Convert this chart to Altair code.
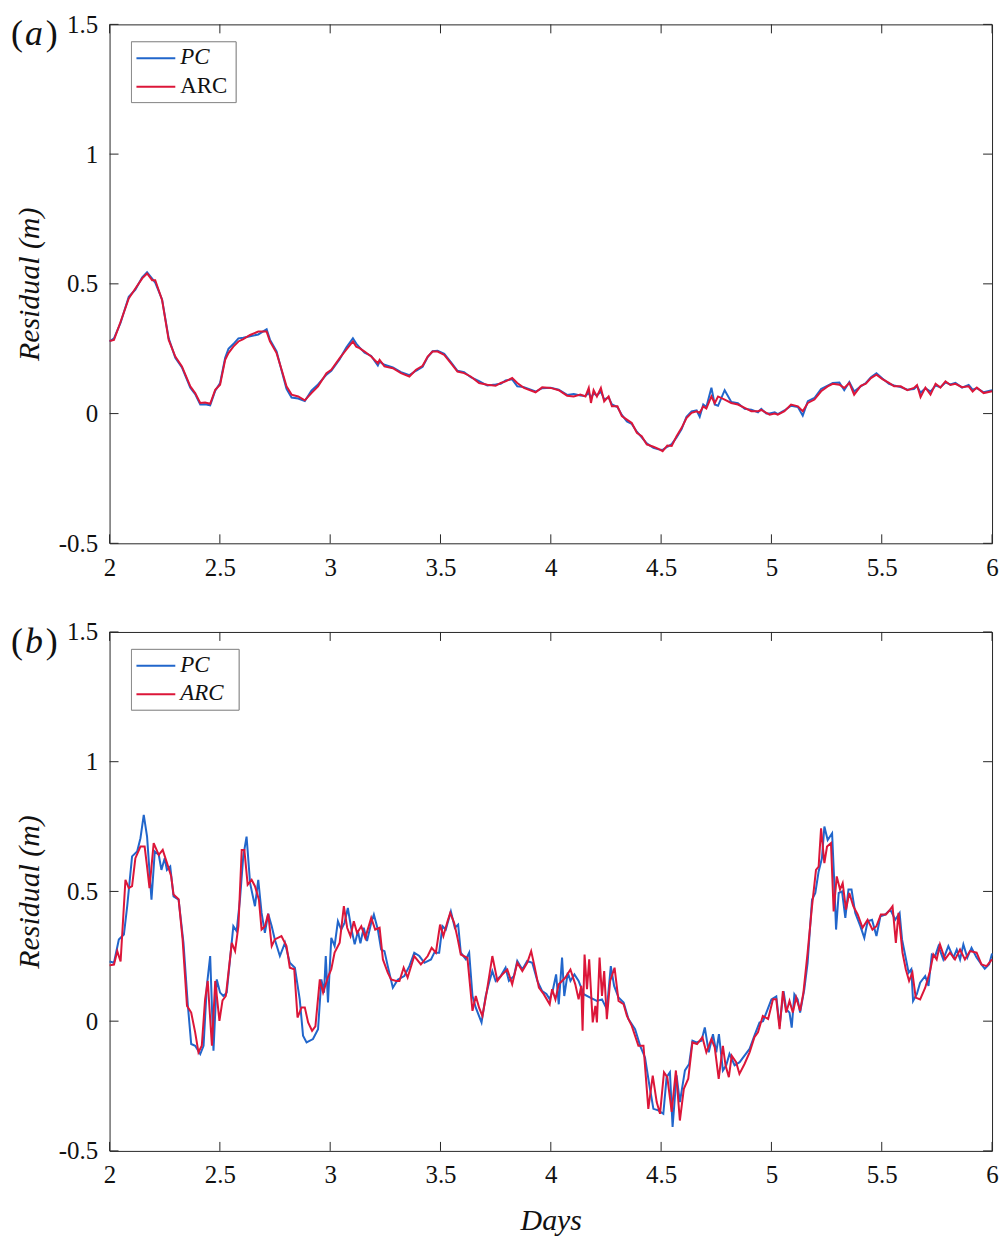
import altair as alt
import pandas as pd

# ---------------- panel (a) ----------------
days_a = [2.000, 2.020, 2.050, 2.087, 2.117, 2.148, 2.170, 2.193, 2.207, 2.238, 2.268, 2.298, 2.328, 2.366, 2.388,
          2.411, 2.433, 2.456, 2.479, 2.501, 2.524, 2.539, 2.561, 2.584, 2.606, 2.637, 2.674, 2.712, 2.727, 2.757,
          2.780, 2.802, 2.825, 2.855, 2.885, 2.915, 2.945, 2.983, 3.005, 3.043, 3.073, 3.103, 3.118, 3.133, 3.156,
          3.186, 3.216, 3.224, 3.246, 3.284, 3.321, 3.359, 3.389, 3.419, 3.442, 3.464, 3.487, 3.517, 3.547, 3.577,
          3.607, 3.637, 3.675, 3.712, 3.750, 3.773, 3.795, 3.825, 3.848, 3.878, 3.931, 3.961, 3.999, 4.036, 4.074,
          4.104, 4.134, 4.157, 4.172, 4.182, 4.194, 4.209, 4.227, 4.242, 4.262, 4.277, 4.302, 4.322, 4.345, 4.367,
          4.390, 4.412, 4.435, 4.465, 4.488, 4.507, 4.528, 4.548, 4.570, 4.593, 4.615, 4.638, 4.661, 4.675, 4.691,
          4.705, 4.728, 4.743, 4.758, 4.788, 4.818, 4.848, 4.879, 4.909, 4.939, 4.954, 4.977, 4.992, 5.015, 5.029,
          5.059, 5.089, 5.120, 5.142, 5.165, 5.195, 5.225, 5.255, 5.278, 5.308, 5.330, 5.353, 5.375, 5.405, 5.428,
          5.451, 5.476, 5.503, 5.533, 5.556, 5.586, 5.616, 5.646, 5.660, 5.676, 5.698, 5.721, 5.744, 5.766, 5.789,
          5.811, 5.834, 5.864, 5.894, 5.912, 5.931, 5.962, 6.000]
arc_a = [0.280, 0.284, 0.354, 0.444, 0.482, 0.521, 0.540, 0.514, 0.514, 0.438, 0.284, 0.220, 0.182, 0.105, 0.079,
         0.041, 0.043, 0.038, 0.092, 0.111, 0.207, 0.233, 0.258, 0.278, 0.287, 0.303, 0.316, 0.316, 0.278, 0.233,
         0.169, 0.105, 0.073, 0.066, 0.051, 0.079, 0.105, 0.156, 0.169, 0.214, 0.246, 0.278, 0.258, 0.252, 0.239,
         0.220, 0.194, 0.207, 0.182, 0.175, 0.156, 0.143, 0.169, 0.184, 0.220, 0.239, 0.239, 0.226, 0.194, 0.162,
         0.156, 0.143, 0.118, 0.111, 0.107, 0.118, 0.124, 0.137, 0.118, 0.099, 0.082, 0.101, 0.099, 0.090, 0.069,
         0.066, 0.073, 0.066, 0.099, 0.041, 0.090, 0.066, 0.099, 0.047, 0.066, 0.028, 0.028, -0.010, -0.023, -0.036,
         -0.074, -0.087, -0.119, -0.128, -0.136, -0.145, -0.123, -0.125, -0.087, -0.055, -0.017, 0.003, 0.009, 0.003, 0.028,
         0.020, 0.066, 0.040, 0.066, 0.054, 0.041, 0.035, 0.022, 0.009, 0.009, 0.014, 0.003, -0.004, 0.000, -0.004,
         0.009, 0.035, 0.028, 0.009, 0.041, 0.054, 0.086, 0.105, 0.115, 0.111, 0.099, 0.118, 0.073, 0.107, 0.115,
         0.137, 0.150, 0.133, 0.118, 0.105, 0.105, 0.090, 0.099, 0.110, 0.064, 0.100, 0.073, 0.115, 0.100, 0.124,
         0.110, 0.115, 0.102, 0.105, 0.085, 0.100, 0.079, 0.086]
pc_a = [0.278, 0.290, 0.350, 0.450, 0.478, 0.525, 0.545, 0.520, 0.505, 0.440, 0.290, 0.215, 0.178, 0.100, 0.075,
        0.035, 0.036, 0.032, 0.088, 0.118, 0.215, 0.250, 0.268, 0.290, 0.292, 0.298, 0.305, 0.325, 0.285, 0.240,
        0.165, 0.095, 0.062, 0.058, 0.048, 0.088, 0.112, 0.150, 0.165, 0.210, 0.255, 0.290, 0.270, 0.255, 0.235,
        0.222, 0.185, 0.200, 0.188, 0.178, 0.160, 0.148, 0.165, 0.180, 0.218, 0.240, 0.242, 0.230, 0.198, 0.165,
        0.160, 0.140, 0.125, 0.108, 0.112, 0.115, 0.128, 0.132, 0.105, 0.102, 0.085, 0.098, 0.100, 0.092, 0.072,
        0.075, 0.070, 0.068, 0.080, 0.060, 0.078, 0.070, 0.085, 0.055, 0.062, 0.035, 0.025, -0.005, -0.030, -0.040,
        -0.070, -0.092, -0.115, -0.132, -0.138, -0.140, -0.128, -0.118, -0.092, -0.060, -0.012, 0.008, 0.012, -0.012, 0.035,
        0.025, 0.100, 0.035, 0.030, 0.090, 0.045, 0.040, 0.018, 0.015, 0.005, 0.018, 0.000, 0.000, 0.005, -0.002,
        0.012, 0.030, 0.025, -0.008, 0.048, 0.060, 0.095, 0.108, 0.118, 0.120, 0.090, 0.122, 0.085, 0.105, 0.118,
        0.140, 0.155, 0.135, 0.115, 0.108, 0.102, 0.092, 0.095, 0.105, 0.080, 0.098, 0.085, 0.108, 0.102, 0.120,
        0.112, 0.118, 0.100, 0.110, 0.092, 0.098, 0.082, 0.090]

# ---------------- panel (b) ----------------
days_pc_b = [2.000, 2.020, 2.042, 2.065, 2.080, 2.102, 2.125, 2.140, 2.155, 2.170, 2.190, 2.205, 2.223, 2.235, 2.250,
             2.260, 2.275, 2.290, 2.313, 2.335, 2.355, 2.370, 2.388, 2.411, 2.426, 2.441, 2.456, 2.471, 2.486, 2.501,
             2.516, 2.531, 2.546, 2.561, 2.576, 2.591, 2.606, 2.621, 2.637, 2.659, 2.674, 2.689, 2.704, 2.719, 2.735,
             2.749, 2.772, 2.795, 2.817, 2.840, 2.862, 2.877, 2.893, 2.922, 2.945, 2.960, 2.972, 2.980, 2.990, 3.005,
             3.020, 3.035, 3.050, 3.065, 3.080, 3.095, 3.111, 3.126, 3.137, 3.152, 3.167, 3.186, 3.198, 3.216, 3.231,
             3.246, 3.261, 3.284, 3.306, 3.336, 3.359, 3.381, 3.404, 3.427, 3.457, 3.472, 3.494, 3.509, 3.524, 3.547,
             3.565, 3.580, 3.592, 3.615, 3.630, 3.645, 3.660, 3.686, 3.705, 3.720, 3.735, 3.750, 3.773, 3.795, 3.810,
             3.833, 3.848, 3.871, 3.893, 3.916, 3.939, 3.961, 3.980, 3.995, 4.010, 4.024, 4.036, 4.051, 4.061, 4.077,
             4.089, 4.107, 4.126, 4.149, 4.179, 4.209, 4.232, 4.254, 4.272, 4.287, 4.307, 4.330, 4.352, 4.382, 4.405,
             4.427, 4.447, 4.465, 4.487, 4.510, 4.525, 4.540, 4.552, 4.570, 4.585, 4.608, 4.627, 4.642, 4.660, 4.683,
             4.698, 4.716, 4.735, 4.750, 4.762, 4.780, 4.795, 4.810, 4.833, 4.856, 4.878, 4.901, 4.923, 4.946, 4.962,
             4.977, 5.000, 5.022, 5.037, 5.055, 5.067, 5.082, 5.092, 5.104, 5.119, 5.130, 5.149, 5.164, 5.184, 5.199,
             5.214, 5.229, 5.240, 5.255, 5.275, 5.285, 5.293, 5.305, 5.320, 5.335, 5.349, 5.363, 5.380, 5.403, 5.421,
             5.436, 5.456, 5.476, 5.494, 5.516, 5.539, 5.561, 5.581, 5.592, 5.607, 5.622, 5.634, 5.642, 5.659, 5.674,
             5.697, 5.712, 5.727, 5.742, 5.757, 5.779, 5.802, 5.825, 5.840, 5.855, 5.870, 5.888, 5.907, 5.930, 5.952,
             5.967, 5.987, 6.000]
pc_b = [0.230, 0.225, 0.315, 0.334, 0.443, 0.635, 0.654, 0.705, 0.795, 0.711, 0.468, 0.654, 0.641, 0.583, 0.628,
        0.583, 0.596, 0.481, 0.468, 0.302, 0.059, -0.088, -0.095, -0.127, -0.095, 0.136, 0.251, -0.114, 0.161, 0.110,
        0.097, 0.110, 0.238, 0.366, 0.347, 0.468, 0.635, 0.711, 0.532, 0.443, 0.545, 0.417, 0.340, 0.414, 0.366,
        0.315, 0.251, 0.302, 0.225, 0.206, 0.084, -0.056, -0.082, -0.069, -0.031, 0.161, 0.110, 0.251, 0.072, 0.321,
        0.290, 0.385, 0.353, 0.379, 0.436, 0.360, 0.296, 0.347, 0.300, 0.360, 0.309, 0.379, 0.411, 0.353, 0.276,
        0.270, 0.212, 0.129, 0.160, 0.174, 0.212, 0.264, 0.251, 0.225, 0.238, 0.264, 0.264, 0.366, 0.353, 0.423,
        0.360, 0.372, 0.264, 0.238, 0.264, 0.097, 0.052, -0.005, 0.097, 0.148, 0.193, 0.155, 0.174, 0.206, 0.155,
        0.174, 0.232, 0.199, 0.232, 0.225, 0.155, 0.116, 0.105, 0.085, 0.123, 0.180, 0.065, 0.245, 0.097, 0.187,
        0.155, 0.180, 0.155, 0.104, 0.091, 0.078, 0.084, 0.046, 0.212, 0.136, 0.091, 0.072, 0.008, -0.031, -0.095,
        -0.140, -0.248, -0.338, -0.344, -0.357, -0.216, -0.197, -0.408, -0.209, -0.312, -0.190, -0.165, -0.075, -0.082, -0.075,
        -0.024, -0.120, -0.050, -0.120, -0.050, -0.190, -0.170, -0.126, -0.170, -0.158, -0.133, -0.107, -0.056, -0.005, 0.000,
        0.033, 0.084, 0.095, -0.018, 0.116, 0.046, 0.033, -0.025, 0.104, 0.084, 0.033, 0.123, 0.225, 0.468, 0.494,
        0.577, 0.628, 0.750, 0.698, 0.724, 0.532, 0.353, 0.494, 0.500, 0.398, 0.507, 0.507, 0.417, 0.366, 0.321,
        0.385, 0.391, 0.328, 0.404, 0.411, 0.430, 0.391, 0.417, 0.315, 0.251, 0.187, 0.200, 0.078, 0.104, 0.148,
        0.174, 0.136, 0.257, 0.251, 0.289, 0.238, 0.289, 0.245, 0.276, 0.238, 0.296, 0.245, 0.283, 0.245, 0.219,
        0.202, 0.219, 0.261]
days_arc_b = [2.000, 2.020, 2.035, 2.050, 2.072, 2.087, 2.102, 2.117, 2.140, 2.159, 2.170, 2.181, 2.200, 2.223, 2.241,
              2.260, 2.279, 2.290, 2.313, 2.331, 2.351, 2.370, 2.388, 2.403, 2.418, 2.433, 2.445, 2.464, 2.479, 2.498,
              2.512, 2.527, 2.554, 2.569, 2.584, 2.599, 2.611, 2.626, 2.644, 2.659, 2.677, 2.689, 2.704, 2.719, 2.735,
              2.749, 2.779, 2.802, 2.817, 2.837, 2.852, 2.870, 2.885, 2.900, 2.918, 2.933, 2.953, 2.968, 2.990, 3.005,
              3.020, 3.043, 3.062, 3.077, 3.092, 3.107, 3.122, 3.141, 3.159, 3.186, 3.204, 3.224, 3.239, 3.261, 3.276,
              3.299, 3.314, 3.333, 3.351, 3.381, 3.411, 3.442, 3.460, 3.479, 3.498, 3.513, 3.532, 3.544, 3.562, 3.577,
              3.592, 3.622, 3.645, 3.660, 3.675, 3.690, 3.709, 3.735, 3.758, 3.780, 3.803, 3.825, 3.848, 3.871, 3.893,
              3.911, 3.926, 3.946, 3.968, 3.995, 4.006, 4.021, 4.036, 4.051, 4.066, 4.089, 4.111, 4.126, 4.138, 4.144,
              4.153, 4.164, 4.174, 4.190, 4.202, 4.209, 4.221, 4.232, 4.242, 4.254, 4.269, 4.289, 4.307, 4.330, 4.345,
              4.367, 4.397, 4.420, 4.442, 4.462, 4.480, 4.495, 4.513, 4.528, 4.548, 4.567, 4.585, 4.603, 4.623, 4.642,
              4.663, 4.687, 4.705, 4.728, 4.743, 4.761, 4.780, 4.792, 4.807, 4.820, 4.840, 4.855, 4.878, 4.901, 4.923,
              4.939, 4.961, 4.985, 5.007, 5.022, 5.037, 5.052, 5.067, 5.082, 5.097, 5.112, 5.130, 5.145, 5.164, 5.184,
              5.202, 5.214, 5.225, 5.240, 5.252, 5.270, 5.282, 5.296, 5.311, 5.323, 5.338, 5.353, 5.371, 5.391, 5.413,
              5.436, 5.458, 5.476, 5.496, 5.519, 5.538, 5.549, 5.564, 5.576, 5.594, 5.609, 5.624, 5.639, 5.654, 5.674,
              5.697, 5.719, 5.734, 5.749, 5.764, 5.787, 5.809, 5.832, 5.855, 5.877, 5.900, 5.930, 5.952, 5.975, 6.000]
arc_b = [0.215, 0.218, 0.270, 0.230, 0.545, 0.513, 0.520, 0.628, 0.673, 0.673, 0.596, 0.513, 0.686, 0.641, 0.660,
         0.610, 0.560, 0.488, 0.470, 0.315, 0.059, 0.033, -0.043, -0.120, -0.095, 0.084, 0.155, -0.095, 0.155, 0.001,
         0.080, 0.097, 0.302, 0.270, 0.366, 0.660, 0.660, 0.526, 0.545, 0.520, 0.468, 0.353, 0.366, 0.414, 0.289,
         0.315, 0.328, 0.289, 0.206, 0.200, 0.014, 0.053, 0.053, -0.005, -0.037, -0.020, 0.161, 0.110, 0.170, 0.200,
         0.264, 0.302, 0.443, 0.360, 0.328, 0.385, 0.340, 0.366, 0.321, 0.398, 0.353, 0.360, 0.238, 0.187, 0.161,
         0.155, 0.155, 0.206, 0.168, 0.251, 0.219, 0.251, 0.283, 0.264, 0.372, 0.328, 0.385, 0.417, 0.379, 0.321,
         0.257, 0.244, 0.040, 0.097, 0.052, 0.020, 0.110, 0.251, 0.155, 0.180, 0.199, 0.142, 0.225, 0.193, 0.225,
         0.270, 0.212, 0.129, 0.104, 0.065, 0.123, 0.084, 0.142, 0.155, 0.168, 0.199, 0.142, 0.084, 0.136, -0.037,
         0.257, 0.123, 0.238, -0.005, 0.059, -0.005, 0.245, 0.097, 0.193, 0.008, 0.155, 0.206, 0.078, 0.065, 0.020,
         -0.018, -0.095, -0.095, -0.338, -0.210, -0.312, -0.357, -0.197, -0.216, -0.350, -0.190, -0.383, -0.261, -0.222, -0.082,
         -0.088, -0.062, -0.120, -0.069, -0.101, -0.222, -0.095, -0.170, -0.216, -0.133, -0.158, -0.203, -0.165, -0.120, -0.062,
         -0.043, 0.020, 0.008, 0.084, 0.084, -0.031, 0.116, 0.033, 0.078, 0.033, 0.091, 0.040, 0.110, 0.264, 0.443,
         0.583, 0.596, 0.743, 0.609, 0.673, 0.686, 0.423, 0.558, 0.507, 0.532, 0.430, 0.494, 0.443, 0.411, 0.360,
         0.391, 0.353, 0.366, 0.411, 0.411, 0.430, 0.443, 0.302, 0.417, 0.264, 0.200, 0.155, 0.187, 0.091, 0.084,
         0.129, 0.193, 0.257, 0.238, 0.296, 0.238, 0.264, 0.238, 0.276, 0.238, 0.270, 0.264, 0.219, 0.212, 0.238]

# ---------------- axes and styling ----------------
x_ticks = [2, 2.5, 3, 3.5, 4, 4.5, 5, 5.5, 6]
y_ticks = [-0.5, 0, 0.5, 1, 1.5]
series_names = ["PC", "ARC"]
series_colors = ["#2166cb", "#dc1639"]

FONT = "Liberation Serif, DejaVu Serif, serif"
INK = "#262626"
TEXT = "#111111"
W, H = 886, 521
TICK = 9

x_scale = alt.Scale(domain=[2, 6], nice=False, zero=False)
y_scale = alt.Scale(domain=[-0.5, 1.5], nice=False, zero=False)

label_style = dict(labelFont=FONT, labelFontSize=25, labelColor=TEXT, labelPadding=12,
                   labelFlush=False, labelOverlap=False, domain=False, ticks=False, grid=False,
                   titleFont=FONT, titleColor=TEXT, titleFontStyle="italic", titleFontSize=30,
                   titleFontWeight="normal")


def x_axis(title):
    return alt.Axis(values=x_ticks, labelExpr="'' + datum.value", title=title,
                    titlePadding=18, **label_style)


y_axis = alt.Axis(values=y_ticks, labelExpr="'' + datum.value", title="Residual (m)",
                  titlePadding=14, **label_style)


def panel(days_pc, vals_pc, days_arc, vals_arc, letter, arc_style, x_title):
    pc_df = pd.DataFrame({"Day": days_pc, "Residual": vals_pc})
    arc_df = pd.DataFrame({"Day": days_arc, "Residual": vals_arc})
    X = alt.X("Day:Q", scale=x_scale, axis=x_axis(x_title))
    Y = alt.Y("Residual:Q", scale=y_scale, axis=y_axis)

    pc_line = alt.Chart(pc_df).mark_line(color=series_colors[0], strokeWidth=2).encode(x=X, y=Y)
    arc_line = alt.Chart(arc_df).mark_line(color=series_colors[1], strokeWidth=2).encode(x=X, y=Y)

    # inward tick marks on all four sides of the box
    xt = pd.DataFrame({"Day": x_ticks})
    yt = pd.DataFrame({"Residual": y_ticks})
    tick_style = dict(color=INK, strokeWidth=1)
    xb = alt.Chart(xt).mark_rule(**tick_style).encode(x=X, y=alt.value(H), y2=alt.value(H - TICK))
    xtop = alt.Chart(xt).mark_rule(**tick_style).encode(x=X, y=alt.value(0), y2=alt.value(TICK))
    yl = alt.Chart(yt).mark_rule(**tick_style).encode(y=Y, x=alt.value(0), x2=alt.value(TICK))
    yr = alt.Chart(yt).mark_rule(**tick_style).encode(y=Y, x=alt.value(W - TICK), x2=alt.value(W))

    # legend box
    box_w = 105 if arc_style == "normal" else 108
    leg_df = pd.DataFrame({"name": series_names})
    box = alt.Chart(leg_df).mark_rect(fill="white", stroke="#8c8c8c", strokeWidth=1).encode(
        x=alt.value(22), x2=alt.value(22 + box_w), y=alt.value(17.5), y2=alt.value(78.5))
    legend_layers = [box]
    for i, (name, col) in enumerate(zip(series_names, series_colors)):
        ly = 34 + 28.5 * i
        d = pd.DataFrame({"name": [name]})
        legend_layers.append(
            alt.Chart(d).mark_rule(color=col, strokeWidth=2).encode(
                x=alt.value(27), x2=alt.value(66), y=alt.value(ly)))
        style = "italic" if name == "PC" else arc_style
        legend_layers.append(
            alt.Chart(d).mark_text(align="left", baseline="middle", font=FONT, fontSize=23,
                                   fontStyle=style, color=TEXT).encode(
                text="name:N", x=alt.value(71), y=alt.value(ly - 1)))

    # panel letter "(a)" / "(b)"
    parts = [("(", "normal", -99), (letter, "italic", -85), (")", "normal", -64)]
    letter_layers = []
    for txt, st, px in parts:
        d = pd.DataFrame({"t": [txt]})
        letter_layers.append(
            alt.Chart(d).mark_text(align="left", baseline="middle", font=FONT, fontSize=36,
                                   fontStyle=st, color=TEXT).encode(
                text="t:N", x=alt.value(px), y=alt.value(10)))

    return alt.layer(pc_line, arc_line, xb, xtop, yl, yr, *legend_layers, *letter_layers).properties(
        width=W, height=H)


top = panel(days_a, pc_a, days_a, arc_a, "a", "normal", None)
bottom = panel(days_pc_b, pc_b, days_arc_b, arc_b, "b", "italic", "Days")

chart = alt.vconcat(top, bottom, spacing=38).configure_view(
    stroke=INK, strokeWidth=1
).properties(
    background="white", padding={"left": 10, "top": 9, "right": 5, "bottom": 5}
)

chart.save("out.html", embed_options={"renderer": "svg", "actions": False})
